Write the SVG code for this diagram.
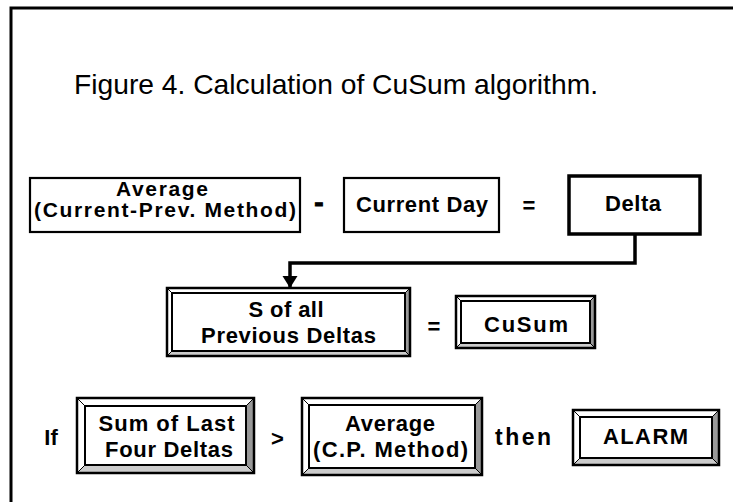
<svg xmlns="http://www.w3.org/2000/svg" width="733" height="502" viewBox="0 0 733 502">
<style>
.lbl{font-family:"Liberation Sans",Arial,sans-serif;font-weight:bold;font-size:22px;fill:#000;text-anchor:middle}
.op{font-family:"Liberation Sans",Arial,sans-serif;font-weight:bold;font-size:22px;fill:#000;text-anchor:middle}
.title{font-family:"Liberation Sans",Arial,sans-serif;font-size:28px;fill:#000}
.box{fill:#fff;stroke:#000;stroke-width:2.2}
.thick{fill:#fff;stroke:#000;stroke-width:3.5}
.hl{fill:#fff;stroke:#000;stroke-width:1}
.sh1{fill:#999;stroke:#000;stroke-width:1}
.sh2{fill:#ccc;stroke:#000;stroke-width:1}
.outer{fill:none;stroke:#000;stroke-width:2.5}
.inner{fill:#fff;stroke:#000;stroke-width:2}
.conn{fill:none;stroke:#000;stroke-width:3.5}
</style>
<defs>
<marker id="arr" markerUnits="userSpaceOnUse" markerWidth="14" markerHeight="16" refX="12" refY="8" orient="auto">
<path d="M0,0.5 L12,8 L0,15.5 Z" fill="#000"/>
</marker>
</defs>
<rect width="733" height="502" fill="#fff"/>
<path d="M11,502 V8 H735" fill="none" stroke="#000" stroke-width="3"/>
<text class="title" x="74" y="94" textLength="524" lengthAdjust="spacingAndGlyphs">Figure 4. Calculation of CuSum algorithm.</text>

<g id="connectors">
<path class="conn" d="M635,235 V263 H290 V288" marker-end="url(#arr)"/>
</g>

<g id="avg-cp">
<rect class="box" x="30" y="178" width="270" height="54"/>
<text class="lbl" x="162" y="196" textLength="92" style="font-size:21px">Average</text>
<text class="lbl" x="165" y="217" textLength="262" style="font-size:21px">(Current-Prev. Method)</text>
</g>
<text class="op" x="319" y="212" style="font-size:28px;stroke:#000;stroke-width:1">-</text>
<g id="current-day">
<rect class="box" x="344" y="178" width="155" height="54"/>
<text class="lbl" x="422" y="212" textLength="132">Current Day</text>
</g>
<text class="op" x="529" y="213">=</text>
<g id="delta">
<rect class="thick" x="569" y="176" width="131" height="58"/>
<text class="lbl" x="633" y="211" textLength="56">Delta</text>
</g>

<g id="sum-prev">
<polygon class="hl" points="167,288 410,288 405,293 172,293"/>
<polygon class="hl" points="167,288 172,293 172,351 167,356"/>
<polygon class="sh1" points="410,288 410,356 405,351 405,293"/>
<polygon class="sh2" points="167,356 410,356 405,351 172,351"/>
<rect class="inner" x="172" y="293" width="233" height="58"/>
<rect class="outer" x="167" y="288" width="243" height="68"/>
<text class="lbl" x="286" y="317" textLength="75">S of all</text>
<text class="lbl" x="288.5" y="343" textLength="175">Previous Deltas</text>
</g>
<text class="op" x="434" y="334">=</text>
<g id="cusum">
<polygon class="hl" points="456,296 595,296 590,301 461,301"/>
<polygon class="hl" points="456,296 461,301 461,343 456,348"/>
<polygon class="sh1" points="595,296 595,348 590,343 590,301"/>
<polygon class="sh2" points="456,348 595,348 590,343 461,343"/>
<rect class="inner" x="461" y="301" width="129" height="42"/>
<rect class="outer" x="456" y="296" width="139" height="52"/>
<text class="lbl" x="526" y="332" textLength="84">CuSum</text>
</g>

<text class="op" x="51" y="445">If</text>
<g id="sum-last">
<polygon class="hl" points="77,398 254,398 246,406 85,406"/>
<polygon class="hl" points="77,398 85,406 85,465 77,473"/>
<polygon class="sh1" points="254,398 254,473 246,465 246,406"/>
<polygon class="sh2" points="77,473 254,473 246,465 85,465"/>
<rect class="inner" x="85" y="406" width="161" height="59"/>
<rect class="outer" x="77" y="398" width="177" height="75"/>
<text class="lbl" x="166.5" y="430.5" textLength="136">Sum of Last</text>
<text class="lbl" x="169" y="457" textLength="128">Four Deltas</text>
</g>
<text class="op" x="277.5" y="446">&gt;</text>
<g id="avg-cp2">
<polygon class="hl" points="302,398 482,398 475,405 309,405"/>
<polygon class="hl" points="302,398 309,405 309,468 302,475"/>
<polygon class="sh1" points="482,398 482,475 475,468 475,405"/>
<polygon class="sh2" points="302,475 482,475 475,468 309,468"/>
<rect class="inner" x="309" y="405" width="166" height="63"/>
<rect class="outer" x="302" y="398" width="180" height="77"/>
<text class="lbl" x="390" y="430.5" textLength="90">Average</text>
<text class="lbl" x="390.5" y="457" textLength="155">(C.P. Method)</text>
</g>
<text class="lbl" x="523" y="445" textLength="56" style="font-size:23px">then</text>
<g id="alarm">
<polygon class="hl" points="573,410 719,410 712,417 580,417"/>
<polygon class="hl" points="573,410 580,417 580,458 573,465"/>
<polygon class="sh1" points="719,410 719,465 712,458 712,417"/>
<polygon class="sh2" points="573,465 719,465 712,458 580,458"/>
<rect class="inner" x="580" y="417" width="132" height="41"/>
<rect class="outer" x="573" y="410" width="146" height="55"/>
<text class="lbl" x="645.5" y="444" textLength="85">ALARM</text>
</g>
</svg>
